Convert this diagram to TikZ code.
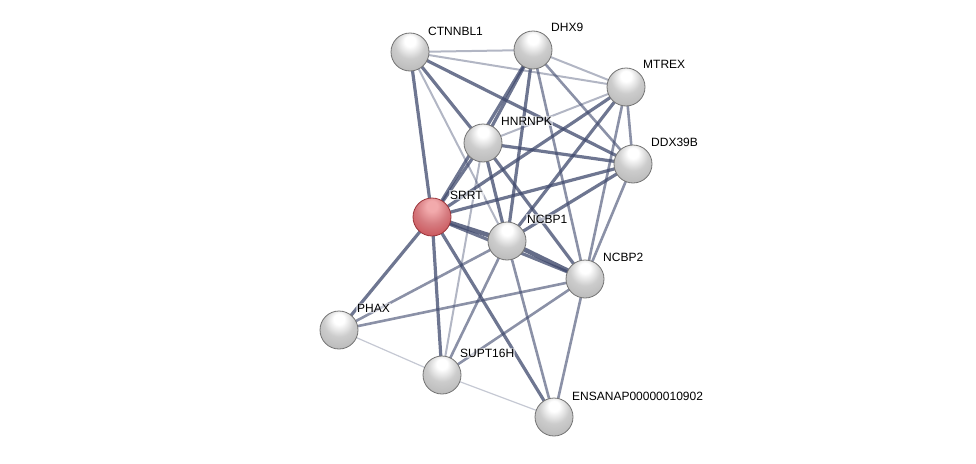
\documentclass[tikz,border=0pt]{standalone}
\usepackage{fontspec}
\setmainfont{Liberation Sans}
\definecolor{edgec}{RGB}{62,72,108}
\definecolor{nodeborder}{RGB}{115,115,115}
\definecolor{redbody}{RGB}{200,80,86}
\definecolor{redhi}{RGB}{242,170,172}
\definecolor{reddark}{RGB}{155,52,58}
\pgfdeclareradialshading{graysphere}{\pgfpoint{0bp}{16bp}}{%
  color(0bp)=(white); color(7bp)=(white); color(20bp)=(black!20);
  color(36bp)=(black!28); color(52bp)=(black!34); color(66bp)=(black!24)}
\pgfdeclareradialshading{redsphere}{\pgfpoint{0bp}{16bp}}{%
  color(0bp)=(redhi); color(7bp)=(redhi); color(20bp)=(redbody!75!white);
  color(36bp)=(redbody); color(52bp)=(reddark); color(66bp)=(redbody)}
\tikzset{
  prot/.style={circle, minimum size=38pt, inner sep=0pt, draw=nodeborder, line width=0.8pt, shading=graysphere},
  protred/.style={prot, draw=reddark, shading=redsphere},
  lbl/.style={anchor=west, font=\fontsize{12}{14}\selectfont, inner sep=1pt, fill=white, fill opacity=0.55, text opacity=1},
  vweak/.style={draw=edgec, line width=1.2pt, opacity=0.3},
  weak/.style={draw=edgec, line width=2pt, opacity=0.4},
  med/.style={draw=edgec, line width=2.6pt, opacity=0.6},
  strong/.style={draw=edgec, line width=3.2pt, opacity=0.75},
  vstrong/.style={draw=edgec, line width=4.5pt, opacity=0.8}
}
\begin{document}
\begin{tikzpicture}[x=1pt,y=-1pt]
\useasboundingbox (0,0) rectangle (976,463);
\coordinate (CTNNBL1) at (410,52);
\coordinate (DHX9) at (533,50);
\coordinate (MTREX) at (626,87);
\coordinate (HNRNPK) at (483,143);
\coordinate (DDX39B) at (633,164);
\coordinate (SRRT) at (432,217);
\coordinate (NCBP1) at (507,241);
\coordinate (NCBP2) at (585,279);
\coordinate (PHAX) at (339,330);
\coordinate (SUPT16H) at (442,375);
\coordinate (ENSANAP) at (554,417);
% edges
\draw[vweak] (PHAX) -- (SUPT16H);
\draw[vweak] (SUPT16H) -- (ENSANAP);
\draw[weak] (CTNNBL1) -- (DHX9);
\draw[weak] (CTNNBL1) -- (MTREX);
\draw[weak] (CTNNBL1) -- (NCBP1);
\draw[weak] (HNRNPK) -- (SUPT16H);
\draw[weak] (DHX9) -- (MTREX);
\draw[weak] (MTREX) -- (HNRNPK);
\draw[med] (DHX9) -- (NCBP2);
\draw[med] (MTREX) -- (DDX39B);
\draw[med] (MTREX) -- (NCBP2);
\draw[med] (DDX39B) -- (NCBP2);
\draw[med] (NCBP1) -- (PHAX);
\draw[med] (NCBP1) -- (SUPT16H);
\draw[med] (NCBP1) -- (ENSANAP);
\draw[med] (NCBP2) -- (PHAX);
\draw[med] (NCBP2) -- (SUPT16H);
\draw[med] (NCBP2) -- (ENSANAP);
\draw[med] (DHX9) -- (DDX39B);
\draw[strong] (CTNNBL1) -- (DDX39B);
\draw[strong] (CTNNBL1) -- (HNRNPK);
\draw[strong] (CTNNBL1) -- (SRRT);
\draw[strong] (DHX9) -- (HNRNPK);
\draw[strong] (DHX9) -- (SRRT);
\draw[strong] (DHX9) -- (NCBP1);
\draw[strong] (MTREX) -- (SRRT);
\draw[strong] (MTREX) -- (NCBP1);
\draw[strong] (HNRNPK) -- (DDX39B);
\draw[strong] (HNRNPK) -- (SRRT);
\draw[strong] (HNRNPK) -- (NCBP1);
\draw[strong] (HNRNPK) -- (NCBP2);
\draw[strong] (DDX39B) -- (SRRT);
\draw[strong] (DDX39B) -- (NCBP1);
\draw[strong] (SRRT) -- (NCBP2);
\draw[strong] (SRRT) -- (PHAX);
\draw[strong] (SRRT) -- (SUPT16H);
\draw[strong] (SRRT) -- (ENSANAP);
\draw[vstrong] (SRRT) -- (NCBP1);
\draw[vstrong] (NCBP1) -- (NCBP2);
% nodes
\node[prot] (nCTNNBL1) at (CTNNBL1) {};
\node[prot] (nDHX9) at (DHX9) {};
\node[prot] (nMTREX) at (MTREX) {};
\node[prot] (nHNRNPK) at (HNRNPK) {};
\node[prot] (nDDX39B) at (DDX39B) {};
\node[protred] (nSRRT) at (SRRT) {};
\node[prot] (nNCBP1) at (NCBP1) {};
\node[prot] (nNCBP2) at (NCBP2) {};
\node[prot] (nPHAX) at (PHAX) {};
\node[prot] (nSUPT16H) at (SUPT16H) {};
\node[prot] (nENSANAP) at (ENSANAP) {};
% labels
\node[lbl] (lCTNNBL1) at ([xshift=17pt,yshift=21pt]CTNNBL1) {CTNNBL1};
\node[lbl] (lDHX9) at ([xshift=17pt,yshift=23pt]DHX9) {DHX9};
\node[lbl] (lMTREX) at ([xshift=16pt,yshift=23pt]MTREX) {MTREX};
\node[lbl] (lHNRNPK) at ([xshift=17pt,yshift=22pt]HNRNPK) {HNRNPK};
\node[lbl] (lDDX39B) at ([xshift=17pt,yshift=22pt]DDX39B) {DDX39B};
\node[lbl] (lSRRT) at ([xshift=17pt,yshift=22pt]SRRT) {SRRT};
\node[lbl] (lNCBP1) at ([xshift=19pt,yshift=22pt]NCBP1) {NCBP1};
\node[lbl] (lNCBP2) at ([xshift=17pt,yshift=22pt]NCBP2) {NCBP2};
\node[lbl] (lPHAX) at ([xshift=17pt,yshift=22pt]PHAX) {PHAX};
\node[lbl] (lSUPT16H) at ([xshift=17pt,yshift=22pt]SUPT16H) {SUPT16H};
\node[lbl] (lENSANAP) at ([xshift=17pt,yshift=21pt]ENSANAP) {ENSANAP00000010902};
\end{tikzpicture}
\end{document}
